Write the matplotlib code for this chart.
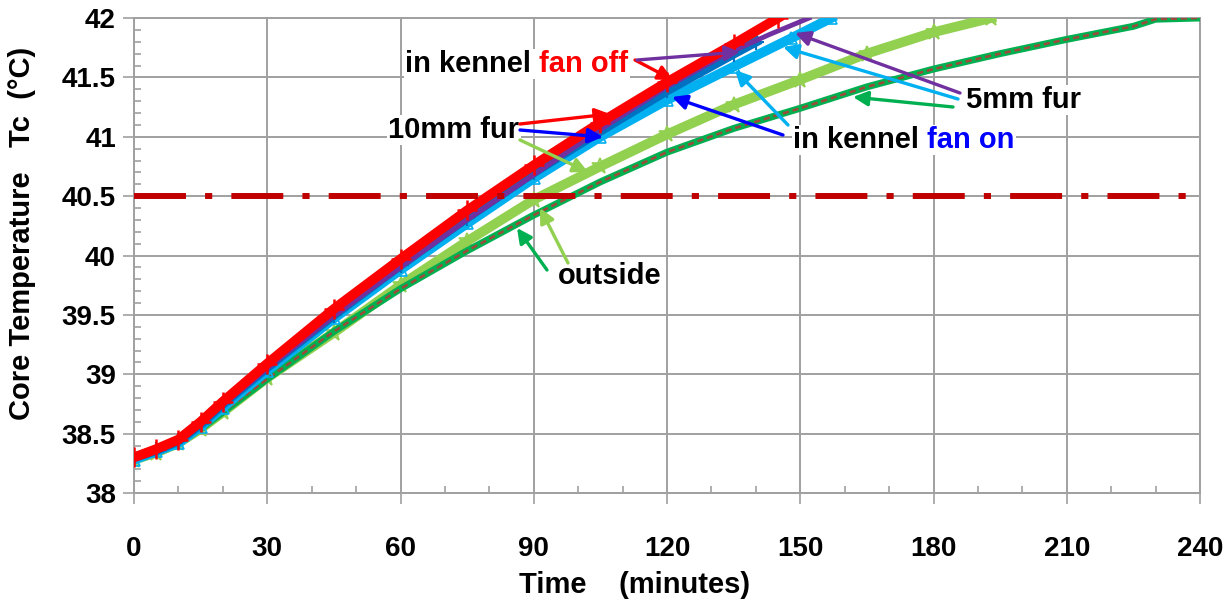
import numpy as np
import matplotlib
matplotlib.use("Agg")
from matplotlib import pyplot as plt

# 10mm fur, in kennel, fan off
red_t = [0, 5, 10, 15, 20, 30, 45, 60, 75, 90, 105, 120, 135, 145]
red_T = [38.30, 38.37, 38.45, 38.60, 38.77, 39.09, 39.55, 39.97, 40.38, 40.76, 41.12, 41.46, 41.78, 42.00]
# 10mm fur, in kennel, fan on
blue_t = [0, 5, 10, 15, 20, 30, 45, 60, 75, 90, 105, 120, 135, 140]
blue_T = [38.30, 38.36, 38.44, 38.58, 38.75, 39.06, 39.50, 39.92, 40.32, 40.70, 41.05, 41.39, 41.70, 41.80]
# 5mm fur, in kennel, fan on
lblue_t = [0, 5, 10, 15, 20, 30, 45, 60, 75, 90, 105, 120, 135, 148, 157]
lblue_T = [38.28, 38.35, 38.42, 38.56, 38.72, 39.03, 39.47, 39.88, 40.27, 40.65, 41.00, 41.31, 41.59, 41.83, 42.00]
# 5mm fur, in kennel, fan off
purple_t = [0, 5, 10, 15, 20, 30, 45, 60, 75, 90, 105, 120, 133, 143, 152]
purple_T = [38.30, 38.36, 38.44, 38.58, 38.74, 39.05, 39.49, 39.90, 40.30, 40.68, 41.06, 41.42, 41.69, 41.86, 42.00]
# 10mm fur, outside
lgreen_t = [0, 5, 10, 15, 20, 30, 45, 60, 75, 90, 105, 120, 135, 150, 165, 180, 193]
lgreen_T = [38.28, 38.34, 38.42, 38.54, 38.68, 38.97, 39.35, 39.75, 40.12, 40.47, 40.75, 41.02, 41.27, 41.48, 41.70, 41.88, 42.00]
# 5mm fur, outside
dgreen_t = [0, 5, 10, 15, 20, 30, 45, 60, 75, 90, 105, 120, 135, 150, 165, 180, 195, 210, 225, 230, 240]
dgreen_T = [38.28, 38.34, 38.42, 38.54, 38.68, 38.96, 39.36, 39.72, 40.04, 40.34, 40.62, 40.87, 41.07, 41.24, 41.42, 41.57, 41.70, 41.82, 41.93, 41.99, 42.00]

threshold = 40.5
xticks = [0, 30, 60, 90, 120, 150, 180, 210, 240]
yticks = [38, 38.5, 39, 39.5, 40, 40.5, 41, 41.5, 42]

plt.rcParams['font.family'] = ['Liberation Sans', 'DejaVu Sans']
plt.rcParams['font.weight'] = 'bold'

fig = plt.figure(figsize=(12.25, 6.01), dpi=100)
L, R, B, T = 134, 1200, 493, 18
ax = fig.add_axes([L/1225, 1-B/601, (R-L)/1225, (B-T)/601])
ax.set_xlim(0, 240)
ax.set_ylim(38, 42)

def P(px, py):
    # pixel position -> data coords (for label/arrow layout)
    return ((px-L)/(R-L)*240, 38+(B-py)/(B-T)*4)

grid_c = '#A0A0A0'
ax.set_xticks(xticks)
ax.set_yticks(yticks)
ax.set_xticks(np.arange(0, 241, 10), minor=True)
ax.set_yticks(np.arange(38, 42.01, 0.1), minor=True)
ax.set_yticklabels([f'{v:g}' for v in yticks])
ax.grid(True, which='major', color=grid_c, lw=1.4)
ax.tick_params(which='major', direction='out', length=8, width=1.2, color=grid_c,
               labelsize=20, pad=5)
ax.tick_params(which='minor', direction='in', length=5, width=1.2, color=grid_c)
for s in ax.spines.values():
    s.set_color(grid_c)
    s.set_linewidth(1.4)
for lab in ax.get_xticklabels() + ax.get_yticklabels():
    lab.set_fontweight('bold')
ax.tick_params(axis='x', pad=23)

ax.plot(lgreen_t, lgreen_T, color='#92D050', lw=7, marker='*', ms=12, mfc='none', mew=1.2, zorder=3)
ax.plot(dgreen_t, dgreen_T, color='#00B050', lw=5, zorder=4, solid_capstyle='butt')
ax.plot(dgreen_t, dgreen_T, color='#9E4A3A', lw=1.8, dashes=(2.5, 1.5), zorder=4.1)
ax.plot(lblue_t, lblue_T, color='#00B0F0', lw=7, marker='^', ms=9, mfc='none', mew=1.2, zorder=5)
ax.plot(blue_t, blue_T, color='#0070C0', lw=7, marker='+', ms=12, mew=1.5, zorder=6)
ax.plot(purple_t, purple_T, color='#7030A0', lw=3.5, zorder=7)
ax.plot(red_t, red_T, color='#FF0000', lw=7, marker='+', ms=14, mew=1.8, zorder=8)

ax.axhline(threshold, color='#C00000', lw=4.3, dashes=(8.7, 3.2, 1.2, 3.2), zorder=9)

fs = 21
bb = dict(facecolor='white', edgecolor='none', pad=1)
def label(px, py, s, color='black', extra=None, extra_color=None):
    t = ax.text(*P(px, py), s, fontsize=fs, fontweight='bold', color=color,
                ha='left', va='center', bbox=bb, zorder=10)
    if extra:
        ax.annotate(extra, xy=(1, 0.5), xycoords=t, va='center', ha='left',
                    fontsize=fs, fontweight='bold', color=extra_color,
                    bbox=bb, zorder=10)

label(405, 64, 'in kennel ', extra='fan off', extra_color='#FF0000')
label(388, 130, '10mm fur')
label(793, 140, 'in kennel ', extra='fan on', extra_color='#0000FF')
label(966, 100, '5mm fur')
label(558, 276, 'outside')

arrows = [
    ((635, 60), (673, 80), '#FF0000'),
    ((637, 60), (740, 52), '#7030A0'),
    ((520, 124), (610, 114), '#FF0000'),
    ((520, 130), (603, 137), '#0000FF'),
    ((520, 140), (588, 172), '#92D050'),
    ((783, 135), (672, 97), '#0000FF'),
    ((788, 125), (735, 70), '#00B0F0'),
    ((960, 93), (795, 33), '#7030A0'),
    ((958, 99), (783, 47), '#00B0F0'),
    ((953, 107), (853, 97), '#00B050'),
    ((547, 270), (517, 228), '#00B050'),
    ((568, 263), (540, 208), '#92D050'),
]
for a, b, c in arrows:
    ax.annotate('', xy=P(*b), xytext=P(*a),
                arrowprops=dict(arrowstyle='-|>', color=c, lw=2.4, mutation_scale=22,
                                shrinkA=0, shrinkB=0),
                zorder=11)

fig.text(635/1225, 1-585/601, 'Time    (minutes)', fontsize=21, fontweight='bold',
         ha='center', va='center')
fig.text(22/1225, 1-233/601, 'Core Temperature   Tc  (°C)', fontsize=21, fontweight='bold',
         ha='center', va='center', rotation=90)

fig.savefig('out.png', dpi=100)
